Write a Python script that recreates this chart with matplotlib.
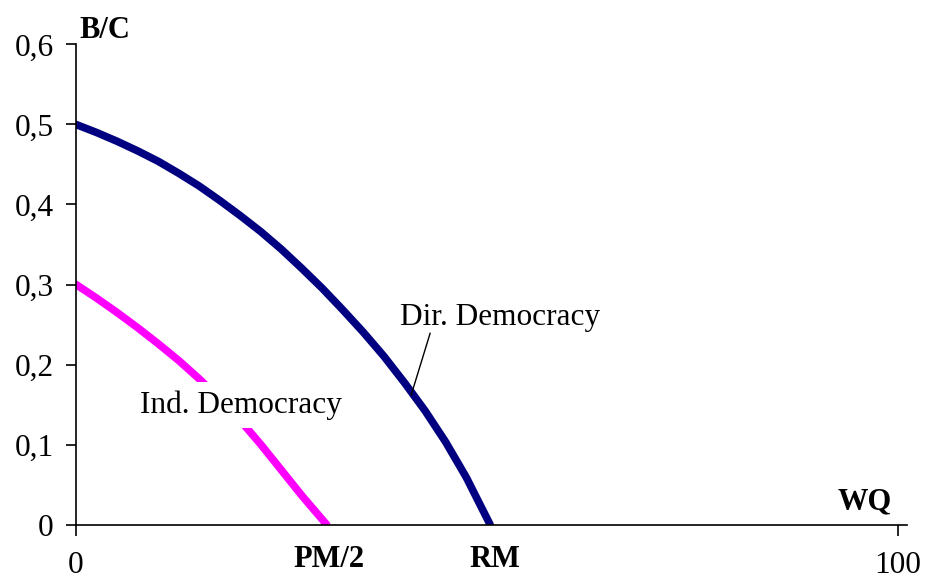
import matplotlib
matplotlib.use("Agg")
import matplotlib.pyplot as plt

# values
dir_x = [0, 2.5, 5, 7.5, 10, 12.5, 15, 17.5, 20, 22.5, 25, 27.5, 30, 32.5, 35,
         37.5, 40, 42.5, 45, 47.5, 50.4]
dir_y = [0.5, 0.490, 0.479, 0.467, 0.454, 0.439, 0.423, 0.405, 0.386, 0.366, 0.344,
         0.320, 0.295, 0.268, 0.240, 0.210, 0.177, 0.142, 0.103, 0.059, 0.0]

ind_x = [0, 2.5, 5, 7.5, 10, 12.5, 15, 17.5, 20, 22.5, 25, 27.5, 30.5]
ind_y = [0.3, 0.283, 0.265, 0.246, 0.226, 0.205, 0.182, 0.157, 0.130, 0.100, 0.068,
         0.036, 0.0]

y_ticks = [0, 0.1, 0.2, 0.3, 0.4, 0.5, 0.6]
y_labels = ["0", "0,1", "0,2", "0,3", "0,4", "0,5", "0,6"]
x_ticks = [0, 100]
x_labels = ["0", "100"]

plt.rcParams['font.family'] = ['Liberation Serif', 'DejaVu Serif']

fig = plt.figure(figsize=(9.27, 5.83), dpi=100)
ax = fig.add_axes([0.082, 0.1003, 0.896, 0.8234])

ax.plot(dir_x, dir_y, color="#000080", lw=5.5, solid_capstyle="round",
        solid_joinstyle="round", zorder=2)
ax.plot(ind_x, ind_y, color="#FF00FF", lw=5.5, solid_capstyle="round",
        solid_joinstyle="round", zorder=2)

ax.set_xlim(0, 101.1)
ax.set_ylim(0, 0.6)
for s in ["top", "right"]:
    ax.spines[s].set_visible(False)
for s in ["left", "bottom"]:
    ax.spines[s].set_linewidth(1.2)

ax.set_yticks(y_ticks)
ax.set_yticklabels(y_labels, fontsize=22.5)
ax.set_xticks(x_ticks)
ax.set_xticklabels(x_labels, fontsize=22.5)
ax.tick_params(axis="y", direction="out", length=7.2, width=1.2, pad=9)
ax.tick_params(axis="x", direction="out", length=7.8, width=1.2, pad=11)

# axis names and special points
ax.text(0.4, 0.608, "B/C", fontsize=22, fontweight="bold", ha="left", va="baseline", clip_on=False)
ax.text(99.3, 0.019, "WQ", fontsize=22, fontweight="bold", ha="right", va="baseline", clip_on=False)
ax.text(30.8, -0.053, "PM/2", fontsize=22, fontweight="bold", ha="center", va="baseline", clip_on=False)
ax.text(51.0, -0.053, "RM", fontsize=22, fontweight="bold", ha="center", va="baseline", clip_on=False)

# curve labels
ax.text(39.4, 0.249, "Dir. Democracy", fontsize=22.5, ha="left", va="baseline")
ax.plot([43.1, 40.8], [0.239, 0.162], color="black", lw=1.0, zorder=3)
ax.text(7.8, 0.14, "Ind. Democracy", fontsize=22.5, ha="left", va="baseline", zorder=4,
        bbox=dict(facecolor="white", edgecolor="none", pad=6))

fig.savefig("out.png", dpi=100)
